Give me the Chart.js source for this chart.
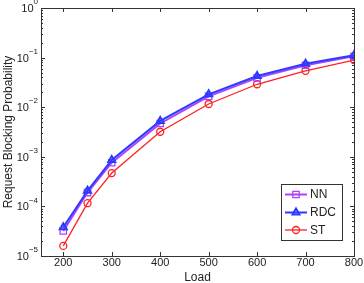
<!DOCTYPE html>
<html>
<head>
<meta charset="utf-8">
<script src="https://cdn.jsdelivr.net/npm/chart.js@4"></script>
<style>
  html, body { margin: 0; padding: 0; background: #fff; }
  #wrap { width: 364px; height: 283px; }
</style>
</head>
<body>
<div id="wrap"><canvas id="blockingChart" width="364" height="283"></canvas></div>
<script>
const loads = [200, 250, 300, 400, 500, 600, 700, 800];
const nnProb = [3.2e-5, 1.9e-4, 7.6e-4, 4.7e-3, 1.65e-2, 3.9e-2, 7.0e-2, 1.06e-1];
const rdcProb = [3.8e-5, 2.07e-4, 8.6e-4, 5.3e-3, 1.82e-2, 4.26e-2, 7.5e-2, 1.12e-1];
const stProb = [1.6e-5, 1.16e-4, 4.7e-4, 3.2e-3, 1.16e-2, 2.9e-2, 5.4e-2, 8.9e-2];
const xTicks = [200, 300, 400, 500, 600, 700, 800];
const yExponents = [-5, -4, -3, -2, -1, 0];

const FONT = "'Liberation Sans', Arial, sans-serif";
const AXIS_COLOR = "#333";

// matlab style axes: box, inward ticks, 10^n labels, legend inside
const matlabAxes = {
  id: "matlabAxes",
  beforeDatasetsDraw(chart) {
    const { ctx, chartArea: a, scales } = chart;
    const x = scales.x, y = scales.y;
    ctx.save();
    ctx.strokeStyle = AXIS_COLOR;
    ctx.lineWidth = 1;
    ctx.strokeRect(Math.round(a.left) + 0.5, Math.round(a.top) + 0.5,
      Math.round(a.right - a.left), Math.round(a.bottom - a.top));

    ctx.beginPath();
    xTicks.forEach((v) => {
      const px = Math.round(x.getPixelForValue(v)) + 0.5;
      ctx.moveTo(px, a.bottom); ctx.lineTo(px, a.bottom - 4);
      ctx.moveTo(px, a.top); ctx.lineTo(px, a.top + 4);
    });
    yExponents.forEach((e) => {
      for (let m = 1; m <= 9; m++) {
        if (e === 0 && m > 1) break;
        const py = Math.round(y.getPixelForValue(m * Math.pow(10, e))) + 0.5;
        const len = m === 1 ? 4 : 2;
        ctx.moveTo(a.left, py); ctx.lineTo(a.left + len, py);
        ctx.moveTo(a.right, py); ctx.lineTo(a.right - len, py);
      }
    });
    ctx.stroke();

    // y tick labels 10^n
    ctx.fillStyle = "#222";
    ctx.textBaseline = "middle";
    yExponents.forEach((e) => {
      const py = y.getPixelForValue(Math.pow(10, e));
      const exp = e === 0 ? "0" : "\u2212" + Math.abs(e);
      ctx.font = "8px " + FONT;
      const ew = ctx.measureText(exp).width;
      ctx.textAlign = "left";
      ctx.fillText(exp, a.left - 3 - ew, py - 6);
      ctx.font = "11px " + FONT;
      ctx.textAlign = "right";
      ctx.fillText("10", a.left - 3 - ew, py + 1);
    });

    // x title
    ctx.font = "12px " + FONT;
    ctx.textAlign = "center";
    ctx.fillText("Load", (a.left + a.right) / 2, 278);
    ctx.restore();
  },
  afterDraw(chart) {
    const { ctx } = chart;
    const bx = 281, by = 184, bw = 61, bh = 56;
    ctx.save();
    ctx.fillStyle = "#fff";
    ctx.fillRect(bx, by, bw, bh);
    ctx.strokeStyle = AXIS_COLOR;
    ctx.lineWidth = 1;
    ctx.strokeRect(bx + 0.5, by + 0.5, bw, bh);
    const rows = [194.5, 212.5, 230];
    chart.data.datasets.forEach((ds, i) => {
      const ry = rows[i];
      ctx.strokeStyle = ds.borderColor;
      ctx.lineWidth = ds.borderWidth;
      ctx.beginPath();
      ctx.moveTo(285, ry); ctx.lineTo(307, ry);
      ctx.stroke();
      ctx.fillStyle = "rgba(0,0,0,0)";
      ctx.lineWidth = ds.pointBorderWidth;
      Chart.helpers.drawPoint(ctx, {
        pointStyle: ds.pointStyle,
        radius: ds.pointRadius,
        borderWidth: ds.pointBorderWidth,
        rotation: 0
      }, 296, ry);
      ctx.fillStyle = "#222";
      ctx.font = "12px " + FONT;
      ctx.textAlign = "left";
      ctx.textBaseline = "middle";
      ctx.fillText(ds.label, 310, ry + 0.5);
    });
    ctx.restore();
  }
};

const ctx = document.getElementById("blockingChart").getContext("2d");

const myChart = new Chart(ctx, {
  type: "line",
  data: {
    labels: loads,
    datasets: [
      {
        label: "NN",
        data: nnProb,
        borderColor: "#b040ff",
        backgroundColor: "rgba(0,0,0,0)",
        pointBackgroundColor: "rgba(0,0,0,0)",
        borderWidth: 2,
        pointStyle: "rect",
        pointRadius: 4.5,
        pointBorderWidth: 1.3,
        order: 1,
      },
      {
        label: "RDC",
        data: rdcProb,
        borderColor: "#2a3cff",
        backgroundColor: "rgba(0,0,0,0)",
        pointBackgroundColor: "rgba(0,0,0,0)",
        borderWidth: 2,
        pointStyle: "triangle",
        pointRadius: 4,
        pointBorderWidth: 2,
        order: 0,
      },
      {
        label: "ST",
        data: stProb,
        borderColor: "#ff2020",
        backgroundColor: "rgba(0,0,0,0)",
        pointBackgroundColor: "rgba(0,0,0,0)",
        borderWidth: 1.3,
        pointStyle: "circle",
        pointRadius: 3.5,
        pointBorderWidth: 1.3,
        order: 2,
      },
    ],
  },
  options: {
    responsive: false,
    animation: false,
    layout: { padding: { top: 8, right: 10 } },
    scales: {
      x: {
        type: "linear",
        min: 154,
        max: 800,
        afterBuildTicks: (scale) => {
          scale.ticks = xTicks.map((v) => ({ value: v }));
        },
        afterFit: (scale) => { scale.height = 27; },
        grid: { display: false, drawTicks: false, tickLength: 0 },
        border: { display: false },
        ticks: {
          color: "#222",
          font: { family: FONT, size: 11 },
          padding: 0,
          maxRotation: 0,
        },
        title: { display: false },
      },
      y: {
        type: "logarithmic",
        min: 1e-5,
        max: 1,
        afterFit: (scale) => { scale.width = 41; },
        grid: { display: false },
        border: { display: false },
        ticks: { display: false },
        title: {
          display: true,
          text: "Request Blocking Probability",
          color: "#222",
          font: { family: FONT, size: 12 },
          padding: { top: 1, bottom: 0 },
        },
      },
    },
    plugins: {
      legend: { display: false },
      tooltip: { enabled: false },
    },
  },
  plugins: [matlabAxes],
});
</script>
</body>
</html>
